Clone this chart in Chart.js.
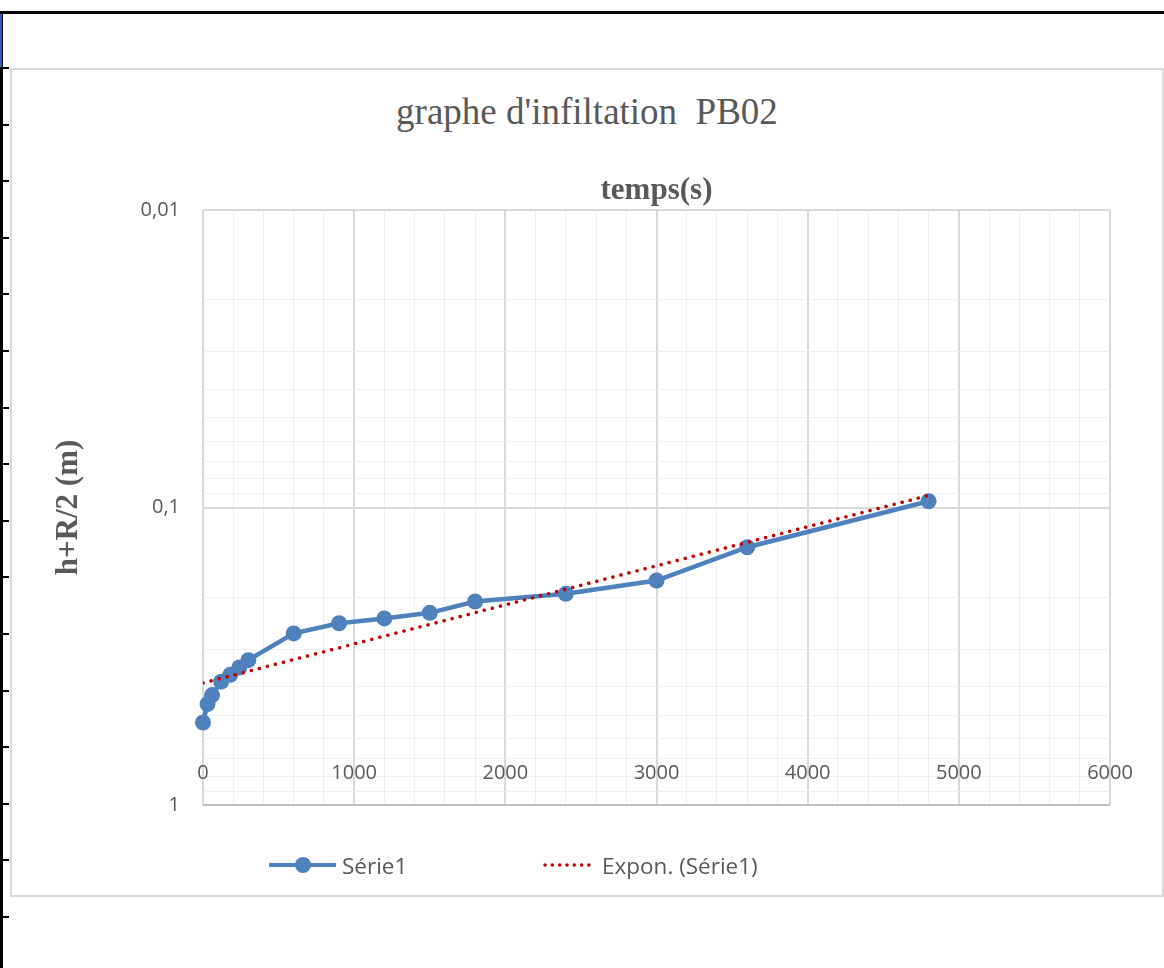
<!DOCTYPE html>
<html>
<head>
<meta charset="utf-8">
<script src="https://cdn.jsdelivr.net/npm/chart.js@4.4.1/dist/chart.umd.min.js"></script>
<style>
  html, body { margin: 0; padding: 0; background: #fff; }
  body { width: 1164px; height: 968px; position: relative; overflow: hidden; }
  .frame-top { position: absolute; left: 0; top: 11px; width: 1164px; height: 3px; background: #000; }
  .frame-left {
    position: absolute; left: 0; top: 11px; width: 3px; height: 957px; background: #000;
  }
  .frame-blue { position: absolute; left: 0; top: 14px; width: 2px; height: 54px; background: #2f5fc4; }
  .row-marks {
    position: absolute; left: 0; top: 67px; width: 9px; height: 900px;
    background: repeating-linear-gradient(to bottom, #000 0, #000 2px, transparent 2px, transparent 56.6px);
  }
  .box {
    position: absolute; left: 10px; top: 68px; width: 1150px; height: 825px;
    border: 2px solid #d9d9d9; background: #fff;
  }
  #title {
    position: absolute; left: 10px; top: 90px; width: 1154px; text-align: center;
    font-family: "Liberation Serif", "DejaVu Serif", serif; font-size: 37px; color: #595959;
    white-space: pre; line-height: 44px;
  }
  canvas { position: absolute; left: 0; top: 0; }
  .legend {
    position: absolute; top: 850px; height: 30px; display: flex; align-items: center;
    font-family: "Open Sans", sans-serif; font-size: 22.5px; color: #595959;
  }
  .legend svg { margin-right: 5px; }
</style>
</head>
<body>
<div class="frame-top"></div>
<div class="frame-left"></div>
<div class="frame-blue"></div>
<div class="row-marks"></div>
<div class="box"></div>
<div id="title">graphe d'infiltation  PB02</div>
<canvas id="chart" width="1164" height="968"></canvas>
<div class="legend" style="left:269px">
  <svg width="68" height="20"><line x1="0" y1="10" x2="67" y2="10" stroke="#4f81bd" stroke-width="4"/><circle cx="34" cy="10" r="8" fill="#4f81bd"/></svg>
  <span>Série1</span>
</div>
<div class="legend" style="left:543px">
  <svg width="54" height="20"><line x1="2" y1="10" x2="53" y2="10" stroke="#c00000" stroke-width="3.5" stroke-linecap="round" stroke-dasharray="0.1 7.2"/></svg>
  <span>Expon. (Série1)</span>
</div>
<script>
// temps (s)
const timeSec = [0, 30, 60, 120, 180, 240, 300, 600, 900, 1200, 1500, 1800, 2400, 3000, 3600, 4800];
// h + R/2 (m)
const headM = [0.528, 0.458, 0.427, 0.385, 0.365, 0.345, 0.326, 0.265, 0.245, 0.236, 0.226, 0.207, 0.195, 0.176, 0.136, 0.0953];
// exponential trendline ends
const trendX = [0, 4800];
const trendY = [0.389, 0.0911];

const xTickLabels = [0, 1000, 2000, 3000, 4000, 5000, 6000];
const yGridValues = [0.01, 0.02, 0.03, 0.04, 0.05, 0.06, 0.07, 0.08, 0.09,
  0.1, 0.2, 0.3, 0.4, 0.5, 0.6, 0.7, 0.8, 0.9, 1];
const yTickLabels = { 0.01: "0,01", 0.1: "0,1", 1: "1" };

const TEXT = "#595959";

const xLabelsPlugin = {
  id: "xLabelsInside",
  afterDraw(chart) {
    const { ctx, chartArea } = chart;
    const xs = chart.scales.x;
    ctx.save();
    ctx.font = '20px "Open Sans"';
    ctx.fillStyle = TEXT;
    ctx.textAlign = "center";
    ctx.textBaseline = "middle";
    xTickLabels.forEach((v) => {
      ctx.fillText(String(v), xs.getPixelForValue(v), chartArea.bottom - 32);
    });
    ctx.restore();
  },
};

new Chart(document.getElementById("chart").getContext("2d"), {
  type: "line",
  data: {
    datasets: [
      {
        label: "Expon. (Série1)",
        data: trendX.map((x, i) => ({ x, y: trendY[i] })),
        borderColor: "#c00000",
        borderWidth: 3.5,
        borderDash: [0.1, 8.2],
        borderCapStyle: "round",
        pointRadius: 0,
        order: 0,
      },
      {
        label: "Série1",
        data: timeSec.map((x, i) => ({ x, y: headM[i] })),
        borderColor: "#4f81bd",
        backgroundColor: "#4f81bd",
        borderWidth: 4.5,
        pointRadius: 8,
        pointBorderWidth: 0,
        pointBackgroundColor: "#4f81bd",
        clip: false,
        order: 1,
      },
    ],
  },
  options: {
    responsive: false,
    animation: false,
    layout: { padding: { left: 50, top: 150, right: 54, bottom: 163 } },
    plugins: {
      legend: { display: false },
      title: { display: false },
      tooltip: { enabled: false },
    },
    scales: {
      x: {
        type: "linear",
        position: "top",
        min: 0,
        max: 6000,
        afterFit: (s) => { s.height = 60; },
        afterBuildTicks: (s) => {
          const t = [];
          for (let v = 0; v <= 6000; v += 200) t.push({ value: v });
          s.ticks = t;
        },
        ticks: { display: false },
        border: { display: false },
        grid: {
          drawTicks: false,
          color: (c) => (c.tick.value % 1000 === 0 ? "#d9d9d9" : "#efefef"),
          lineWidth: (c) => (c.tick.value % 1000 === 0 ? 2 : 1),
        },
        title: {
          display: true,
          text: "temps(s)",
          color: TEXT,
          font: { family: "Liberation Serif", size: 31, weight: "bold" },
          padding: { top: 22, bottom: 0 },
        },
      },
      y: {
        type: "logarithmic",
        reverse: true,
        min: 0.01,
        max: 1,
        afterFit: (s) => { s.width = 153; },
        afterBuildTicks: (s) => { s.ticks = yGridValues.map((v) => ({ value: v })); },
        ticks: {
          autoSkip: false,
          padding: 23,
          color: TEXT,
          font: { family: "Open Sans", size: 20 },
          callback: (v) => yTickLabels[v] || "",
        },
        border: { display: false },
        grid: {
          drawTicks: false,
          color: (c) => {
            const v = c.tick.value;
            if (v === 1) return "#bfbfbf";
            return yTickLabels[v] ? "#d9d9d9" : "#efefef";
          },
          lineWidth: (c) => (yTickLabels[c.tick.value] ? 2 : 1),
        },
        title: {
          display: true,
          text: "h+R/2 (m)",
          color: TEXT,
          font: { family: "Liberation Serif", size: 31, weight: "bold" },
          padding: { top: 0, bottom: 0 },
        },
      },
    },
  },
  plugins: [xLabelsPlugin],
});
</script>
</body>
</html>
